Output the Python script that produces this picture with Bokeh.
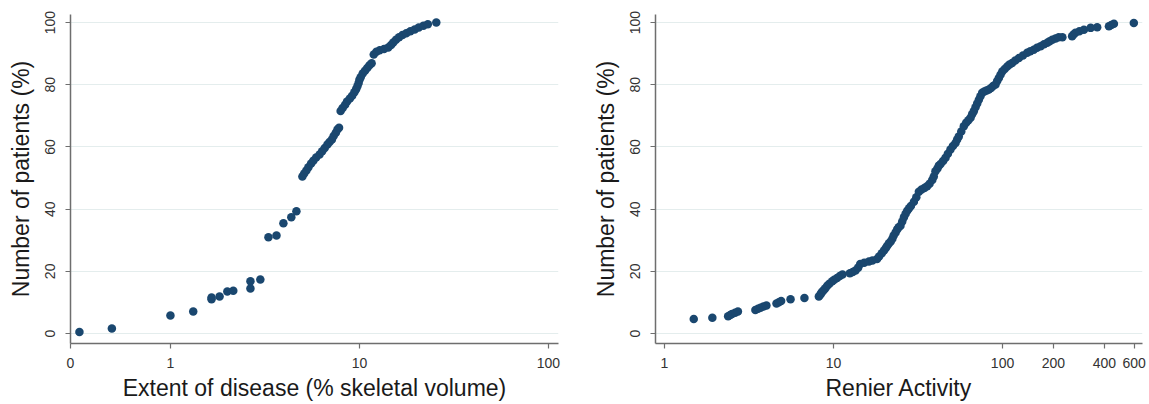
from bokeh.plotting import figure
from bokeh.layouts import row
from bokeh.models import FixedTicker, NumeralTickFormatter, Range1d
from bokeh.embed import file_html
from bokeh.resources import INLINE

# ---- Data: left panel (extent of disease, % skeletal volume) ----
left_extent = [0.33, 0.49, 1.0, 1.32, 1.65, 1.65, 1.82, 2.0, 2.15, 2.65, 2.65, 2.99, 3.30, 3.64, 3.96, 4.36, 4.64,
               4.99, 5.10, 5.24, 5.37, 5.55, 5.70, 5.90, 6.15, 6.35, 6.55, 6.77, 6.95, 7.15, 7.30, 7.50, 7.65, 7.80,
               7.95, 8.15, 8.40, 8.60, 8.90, 9.15, 9.40, 9.60, 9.75, 9.90, 10.0, 10.15, 10.4, 10.7, 11.0, 11.3, 11.6,
               11.9, 12.3, 12.8, 13.5, 14.2, 14.7, 15.1, 15.6, 16.2, 16.9, 17.7, 18.6, 19.6, 20.6, 21.8, 23.0, 25.5]
left_pct = [0.5, 1.6, 5.8, 7.1, 11.0, 11.6, 11.9, 13.5, 13.8, 14.5, 16.8, 17.4, 31.0, 31.5, 35.5, 37.4, 39.3,
            50.5, 51.5, 52.4, 53.5, 54.7, 55.6, 56.6, 57.6, 58.6, 59.7, 60.8, 61.6, 62.4, 63.5, 64.6, 65.6, 66.2,
            71.6, 72.5, 73.6, 74.6, 75.6, 76.5, 77.6, 78.6, 79.5, 80.6, 81.6, 82.4, 83.6, 84.5, 85.4, 86.3, 86.9,
            89.7, 90.6, 91.1, 91.5, 92.0, 92.8, 93.6, 94.5, 95.3, 96.0, 96.6, 97.2, 97.8, 98.4, 99.0, 99.5, 100]

# ---- Data: right panel (Renier activity) ----
right_activity = [1.49, 1.92, 2.38, 2.45, 2.51, 2.62, 2.72, 3.45, 3.58, 3.70, 3.85, 4.01, 4.60, 4.75, 4.90, 5.57, 6.73, 8.19,
                  8.35, 8.46, 8.60, 8.77, 8.95, 9.18, 9.45, 9.83, 10.1, 10.5, 10.9, 11.3, 12.5, 13.0, 13.5, 14.0, 14.4, 15.2, 16.2, 17.0, 18.1,
                  18.6, 19.3, 19.9, 20.4, 20.8, 21.3, 21.8, 22.3, 22.7, 23.3, 23.8, 24.3, 24.9, 25.5, 26.1, 26.7, 27.3, 28.0, 28.7, 29.9,
                  30.9, 32.0, 33.2, 34.5, 35.8, 37.0, 38.4, 39.2, 40.1, 41.2, 42.0, 43.0, 44.5, 46.0, 47.5, 49.2, 50.9, 52.7, 53.9, 55.1,
                  57.0, 59.0, 60.9, 62.8, 64.7, 66.1, 67.6, 69.2, 70.8, 72.4, 74.0, 75.8, 78.0, 80.5, 83.0, 85.5, 88.0, 90.9, 93.0, 95.1,
                  97.3, 99.6, 103, 106.6, 110, 114, 119, 125, 132, 140, 146, 153, 160, 168, 176, 184, 190, 197, 206, 215,
                  226, 258, 263, 270, 285, 303, 332, 363, 426, 440, 456, 598]
right_pct = [4.7, 5.1, 5.6, 6.0, 6.3, 6.7, 7.1, 7.6, 8.0, 8.3, 8.7, 9.0, 9.7, 10.1, 10.5, 11.0, 11.4, 11.9,
             12.5, 13.0, 13.5, 14.0, 14.6, 15.4, 16.0, 16.8, 17.3, 17.9, 18.5, 19.0, 19.4, 19.8, 20.3, 21.2, 22.4, 22.8, 23.2, 23.5, 24.0,
             24.8, 25.8, 26.7, 27.5, 28.2, 29.0, 29.6, 30.5, 31.5, 32.5, 33.5, 34.2, 34.7, 36.0, 37.4, 38.5, 39.5, 40.3, 41.0, 42.4,
             43.8, 45.6, 46.3, 46.8, 47.4, 48.2, 49.4, 50.5, 52.2, 53.1, 54.0, 54.5, 55.5, 56.5, 57.8, 59.2, 60.3, 61.3, 62.4, 63.4,
             65.0, 66.7, 67.8, 68.6, 69.4, 70.5, 71.5, 72.8, 74.0, 75.2, 76.3, 77.4, 77.8, 78.2, 78.5, 79.0, 79.6, 80.1, 81.2, 82.2,
             83.2, 84.3, 85.1, 85.9, 86.5, 87.0, 87.8, 88.6, 89.4, 90.3, 90.8, 91.3, 91.9, 92.4, 93.0, 93.5, 94.0, 94.5, 94.9, 95.3,
             95.3, 95.6, 96.2, 96.7, 97.2, 97.7, 98.3, 98.5, 98.8, 99.2, 99.6, 99.9]

y_ticks = [0, 20, 40, 60, 80, 100]
left_x_ticks = [0.296, 1, 10, 100]       # "0" is placed at 0.296 on the log axis
right_x_ticks = [1, 10, 100, 200, 400, 600]

FONT = "Liberation Sans"
MARK = "#1a476f"


def style(p, xlabel, xticks):
    p.outline_line_color = None
    p.background_fill_color = "white"
    p.border_fill_color = "white"
    p.xgrid.visible = False
    p.ygrid.grid_line_color = "#e4eded"
    p.ygrid.grid_line_width = 1
    p.ygrid.ticker = FixedTicker(ticks=y_ticks)
    for ax in (p.xaxis[0], p.yaxis[0]):
        ax.axis_line_color = "#6e6e6e"
        ax.axis_line_width = 1.5
        ax.major_tick_line_color = "#6e6e6e"
        ax.major_tick_line_width = 1.2
        ax.major_tick_out = 5
        ax.major_tick_in = 0
        ax.minor_tick_line_color = None
        ax.major_label_text_font = FONT
        ax.major_label_text_font_size = "14px"
        ax.major_label_text_color = "#333333"
        ax.axis_label_text_font = FONT
        ax.axis_label_text_font_size = "23px"
        ax.axis_label_text_font_style = "normal"
        ax.axis_label_text_color = "#1a1a1a"
    p.xaxis[0].ticker = FixedTicker(ticks=xticks)
    p.xaxis[0].formatter = NumeralTickFormatter(format="0")
    p.xaxis[0].axis_label = xlabel
    p.xaxis[0].major_label_standoff = 9
    p.xaxis[0].axis_label_standoff = 4
    p.yaxis[0].ticker = FixedTicker(ticks=y_ticks)
    p.yaxis[0].axis_label = "Number of patients (%)"
    p.yaxis[0].major_label_orientation = "vertical"
    p.yaxis[0].major_label_standoff = 10
    p.yaxis[0].axis_label_standoff = 9


p1 = figure(width=578, height=404, x_axis_type="log",
            x_range=Range1d(0.296, 113), y_range=Range1d(-3.2, 102.6),
            output_backend="svg", toolbar_location=None,
            min_border_left=70, min_border_right=20, min_border_top=14, min_border_bottom=61)
p1.scatter(left_extent, left_pct, size=8.5, fill_color=MARK, line_color=None)
style(p1, "Extent of disease (% skeletal volume)", left_x_ticks)

p2 = figure(width=571, height=404, x_axis_type="log",
            x_range=Range1d(0.885, 673), y_range=Range1d(-3.2, 102.6),
            output_backend="svg", toolbar_location=None,
            min_border_left=77, min_border_right=7, min_border_top=14, min_border_bottom=61)
p2.scatter(right_activity, right_pct, size=8.5, fill_color=MARK, line_color=None)
style(p2, "Renier Activity", right_x_ticks)

layout = row(p1, p2)
open("out.html", "w").write(file_html(layout, INLINE))
